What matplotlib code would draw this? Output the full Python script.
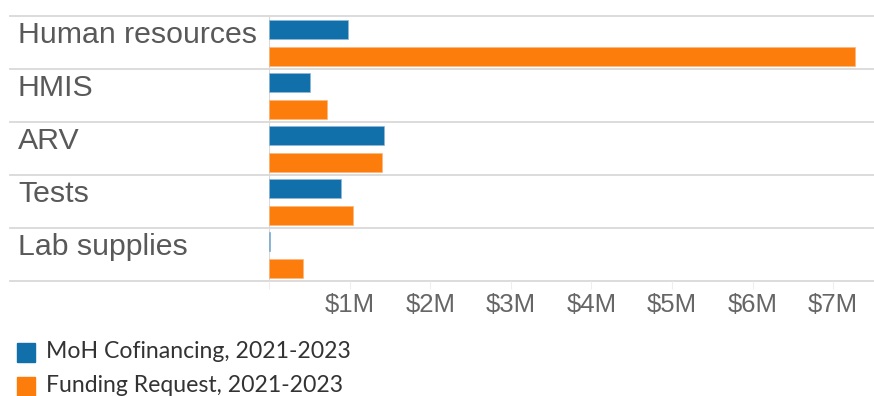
import numpy as np
import matplotlib
matplotlib.use("Agg")
import matplotlib.pyplot as plt
from matplotlib.patches import Rectangle
import matplotlib.transforms as mtransforms

# data (values in $M)
categories = ["Human resources", "HMIS", "ARV", "Tests", "Lab supplies"]
moh_cofinancing = [0.98, 0.51, 1.43, 0.89, 0.01]
funding_request = [7.27, 0.72, 1.40, 1.04, 0.42]
series_names = ["MoH Cofinancing, 2021-2023", "Funding Request, 2021-2023"]
colors = ["#1170aa", "#fc7d0b"]
tick_values = [1, 2, 3, 4, 5, 6, 7]
tick_labels = ["$1M", "$2M", "$3M", "$4M", "$5M", "$6M", "$7M"]

W, H = 874, 396
fig = plt.figure(figsize=(W / 100, H / 100), dpi=100)
# axes spans from the zero line to the right edge
ax = fig.add_axes([269 / W, 1 - 281 / H, (W - 269) / W, (281 - 16) / H])

px_per_m = 80.6
ax.set_xlim(0, (W - 269) / px_per_m)
ax.set_ylim(len(categories), 0)

row_px = (281 - 16) / len(categories)
bar_h = 19 / row_px
y = np.arange(len(categories))
ax.barh(y + 13.5 / row_px, moh_cofinancing, height=bar_h, color=colors[0], edgecolor="#8fb8d8", linewidth=0.5)
ax.barh(y + 40.5 / row_px, funding_request, height=bar_h, color=colors[1], edgecolor="#fdb77a", linewidth=0.5)

sep = "#d9d9d9"
x0 = (10 - 269) / (W - 269)
for i in range(len(categories) + 1):
    ax.axhline(i, xmin=x0, xmax=1, color=sep, lw=1.3, clip_on=False, zorder=0)
ax.axvline(0, color=sep, lw=0.8, zorder=0)

# category labels at the top-left of each row
trans = mtransforms.blended_transform_factory(fig.transFigure, ax.transData)
for i, c in enumerate(categories):
    ax.text(18 / W, i + 27 / row_px, c, transform=trans, ha="left", va="baseline",
            fontsize=21.8, color="#595959", family=["Liberation Sans", "DejaVu Sans"])

for s in ax.spines.values():
    s.set_visible(False)
ax.set_yticks([])
ax.set_xticks([0] + tick_values)
ax.set_xticklabels([""] + tick_labels, fontsize=18.5, color="#666666",
                   family=["Liberation Sans", "DejaVu Sans"])
ax.tick_params(axis="x", length=6, color="#eeeeee", pad=3)

# legend
leg_font = ["Lato", "DejaVu Sans"]
for k, name in enumerate(series_names):
    top = 343 + k * 34
    fig.patches.append(Rectangle((17 / W, 1 - (top + 19) / H), 18 / W, 19 / H,
                                 transform=fig.transFigure, color=colors[k]))
    fig.text(46 / W, 1 - (top + 15) / H, name, ha="left", va="baseline",
             fontsize=16.6, color="#333333", family=leg_font)

fig.savefig("out.png", dpi=100)
